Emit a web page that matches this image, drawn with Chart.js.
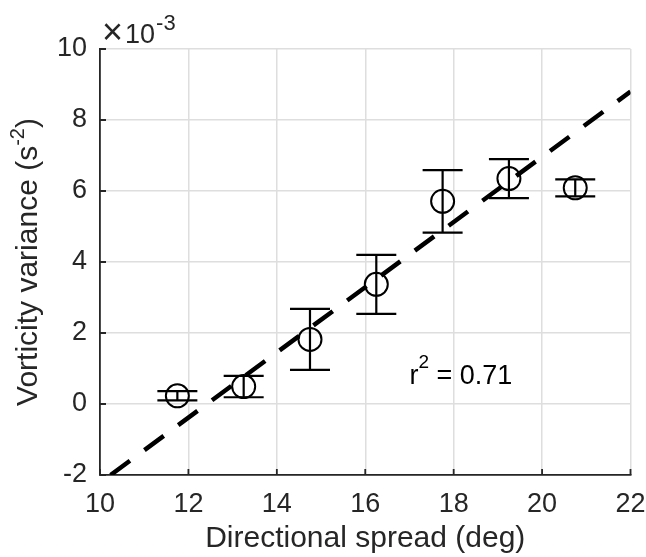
<!DOCTYPE html>
<html>
<head>
<meta charset="utf-8">
<script src="https://cdn.jsdelivr.net/npm/chart.js@4.4.1/dist/chart.umd.min.js"></script>
<style>
    html, body { margin: 0; padding: 0; background: #fff; }
    #wrap { width: 646px; height: 557px; }
</style>
</head>
<body>
<div id="wrap"><canvas id="chart"></canvas></div>
<script>
// Binned data: directional spread (deg) vs vorticity variance (x 1e-3 s^-2)
const spread = [11.75, 13.25, 14.75, 16.25, 17.75, 19.25, 20.75];
const variance = [0.23, 0.49, 1.82, 3.37, 5.71, 6.35, 6.09];
const varianceErr = [0.13, 0.30, 0.86, 0.83, 0.88, 0.55, 0.24];

// Least-squares fit line end points
const fitX = [10.24, 22];
const fitY = [-2, 8.8];

const rSquared = '0.71';
const rLabelPos = { x: 17.0, y: 0.56 };

const xMin = 10, xMax = 22, xStep = 2;
const yMin = -2, yMax = 10, yStep = 2;

const FONT = "'Liberation Sans', Arial, Helvetica, sans-serif";
const AXIS_COLOR = '#262626';
const GRID_COLOR = '#dedede';

const errorBarPlugin = {
    id: 'errorBars',
    afterDatasetsDraw(chart) {
        const { ctx, scales: { x, y } } = chart;
        const capHalf = 20;
        ctx.save();
        ctx.strokeStyle = '#000';
        ctx.lineWidth = 2.2;
        spread.forEach((s, i) => {
            const px = x.getPixelForValue(s);
            const top = y.getPixelForValue(variance[i] + varianceErr[i]);
            const bot = y.getPixelForValue(variance[i] - varianceErr[i]);
            ctx.beginPath();
            ctx.moveTo(px, top);
            ctx.lineTo(px, bot);
            ctx.moveTo(px - capHalf, top);
            ctx.lineTo(px + capHalf, top);
            ctx.moveTo(px - capHalf, bot);
            ctx.lineTo(px + capHalf, bot);
            ctx.stroke();
        });
        ctx.restore();
    }
};

// MATLAB-like extras: inward ticks, exponent label, y label with superscript, r^2 text
const decorPlugin = {
    id: 'decor',
    afterDraw(chart) {
        const { ctx, chartArea: area, scales: { x, y } } = chart;
        ctx.save();

        // inward tick marks
        ctx.strokeStyle = AXIS_COLOR;
        ctx.lineWidth = 1.8;
        ctx.beginPath();
        x.ticks.forEach(t => {
            const px = x.getPixelForValue(t.value);
            ctx.moveTo(px, area.bottom);
            ctx.lineTo(px, area.bottom - 6);
        });
        y.ticks.forEach(t => {
            const py = y.getPixelForValue(t.value);
            ctx.moveTo(area.left, py);
            ctx.lineTo(area.left + 6, py);
        });
        ctx.stroke();

        ctx.fillStyle = '#262626';
        ctx.textBaseline = 'alphabetic';
        ctx.textAlign = 'left';

        // exponent label: x10^-3
        let cx = area.left + 2;
        ctx.font = `36px ${FONT}`;
        ctx.fillText('\u00d7', cx, 44);
        cx += ctx.measureText('\u00d7').width + 2;
        ctx.font = `27px ${FONT}`;
        ctx.fillText('10', cx, 43);
        cx += ctx.measureText('10').width + 1;
        ctx.font = `22px ${FONT}`;
        ctx.fillText('-3', cx, 30);

        // y axis label with superscript
        ctx.translate(37, (area.top + area.bottom) / 2);
        ctx.rotate(-Math.PI / 2);
        const mainFont = `30px ${FONT}`;
        const supFont = `20px ${FONT}`;
        ctx.font = mainFont;
        const p1 = 'Vorticity variance (s';
        const w1 = ctx.measureText(p1).width;
        const w3 = ctx.measureText(')').width;
        ctx.font = supFont;
        const w2 = ctx.measureText('-2').width;
        let sx = -(w1 + w2 + w3) / 2;
        ctx.font = mainFont;
        ctx.fillText(p1, sx, 0);
        sx += w1;
        ctx.font = supFont;
        ctx.fillText('-2', sx, -13);
        sx += w2;
        ctx.font = mainFont;
        ctx.fillText(')', sx, 0);
        ctx.setTransform(1, 0, 0, 1, 0, 0);

        // r^2 annotation
        ctx.fillStyle = '#000';
        let rx = x.getPixelForValue(rLabelPos.x);
        const ry = y.getPixelForValue(rLabelPos.y);
        ctx.font = `27px ${FONT}`;
        ctx.fillText('r', rx, ry);
        rx += ctx.measureText('r').width;
        ctx.font = `19px ${FONT}`;
        ctx.fillText('2', rx, ry - 16);
        rx += ctx.measureText('2').width;
        ctx.font = `27px ${FONT}`;
        ctx.fillText(' = ' + rSquared, rx, ry);

        ctx.restore();
    }
};

const ctx = document.getElementById('chart').getContext('2d');
new Chart(ctx, {
    data: {
        datasets: [
            {
                type: 'line',
                data: fitX.map((v, i) => ({ x: v, y: fitY[i] })),
                borderColor: '#000',
                borderWidth: 4.5,
                borderDash: [24, 18],
                pointRadius: 0,
                fill: false
            },
            {
                type: 'scatter',
                data: spread.map((v, i) => ({ x: v, y: variance[i] })),
                pointStyle: 'circle',
                pointRadius: 11.5,
                borderWidth: 2,
                borderColor: '#000',
                backgroundColor: 'rgba(0,0,0,0)'
            }
        ]
    },
    options: {
        responsive: true,
        maintainAspectRatio: false,
        animation: false,
        events: [],
        layout: { padding: { top: 49, right: 15.5, left: 0, bottom: 0 } },
        plugins: {
            legend: { display: false },
            tooltip: { enabled: false }
        },
        scales: {
            x: {
                type: 'linear',
                min: xMin,
                max: xMax,
                ticks: {
                    stepSize: xStep,
                    color: '#262626',
                    padding: 13,
                    maxRotation: 0,
                    font: { family: FONT, size: 27 }
                },
                grid: { color: GRID_COLOR, lineWidth: 1.5, drawTicks: false },
                border: { display: true, color: AXIS_COLOR, width: 1.8 },
                title: {
                    display: true,
                    text: 'Directional spread (deg)',
                    color: '#262626',
                    padding: { top: 0, bottom: 0 },
                    font: { family: FONT, size: 30 }
                },
                afterFit(scale) {
                    scale.height = 82;
                    scale.paddingLeft = 0;
                    scale.paddingRight = 0;
                }
            },
            y: {
                type: 'linear',
                min: yMin,
                max: yMax,
                ticks: {
                    stepSize: yStep,
                    color: '#262626',
                    padding: 13,
                    font: { family: FONT, size: 27 }
                },
                grid: { color: GRID_COLOR, lineWidth: 1.5, drawTicks: false },
                border: { display: true, color: AXIS_COLOR, width: 1.8 },
                afterFit(scale) {
                    scale.width = 100;
                    scale.paddingTop = 0;
                    scale.paddingBottom = 0;
                }
            }
        }
    },
    plugins: [errorBarPlugin, decorPlugin]
});
</script>
</body>
</html>
